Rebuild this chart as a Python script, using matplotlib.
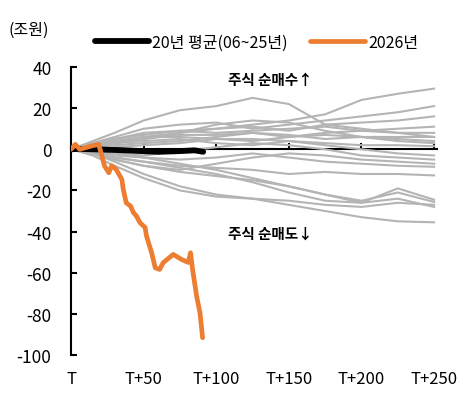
import matplotlib
matplotlib.use("Agg")
import matplotlib.pyplot as plt

plt.rcParams['font.family'] = ['Noto Sans CJK KR', 'DejaVu Sans']
plt.rcParams['axes.unicode_minus'] = False

# ---- data ----
gray_days = [0, 15, 30, 50, 75, 100, 125, 150, 175, 200, 225, 250]
gray_series = [
    [0, 4, 8, 14, 19, 21, 25, 22, 12, 10, 8, 6],
    [0, 2, 5, 8, 9, 10, 12, 14, 17, 24, 27, 29.5],
    [0, 3, 6, 10, 12, 13, 10, 12, 14, 16, 18, 21],
    [0, 2, 4, 6, 8, 10, 11, 9, 12, 13, 14, 16],
    [0, 3, 5, 7, 9, 8, 9, 10, 11, 9, 10, 11],
    [0, 1, 3, 5, 7, 7, 8, 6, 8, 9, 8, 8],
    [0, 2, 4, 6, 6, 5, 4, 6, 7, 6, 6, 6],
    [0, 1, 2, 3, 4, 6, 8, 7, 5, 6, 5, 4],
    [0, 2, 3, 4, 5, 3, 2, 4, 3, 2, 2, 1.5],
    [0, -1, 1, 2, 3, 5, 5, 4, 2, 0, -2, -3],
    [0, -1, -2, -3, -1, 1, 3, 2, 0, -3, -4, -5],
    [0, -1, -3, -4, -5, -4, -2, -4, -6, -7, -8, -8.5],
    [0, -2, -4, -6, -8, -9, -10, -12, -11, -12, -12, -12.7],
    [0, -2, -5, -8, -11, -13, -15, -18, -22, -25, -21, -25.6],
    [0, -3, -8, -14, -20, -23, -24, -25, -27, -28, -26, -27],
    [0, -2, -4, -6, -9, -12, -16, -21, -25, -26, -24, -28],
    [0, -2, -6, -12, -18, -22, -24, -27, -30, -33, -35, -35.5],
    [0, -1, -2, -4, -7, -10, -14, -18, -22, -26, -19, -24.5],
    [0, 1, 3, 5, 8, 12, 14, 13, 9, 6, 4, 3],
    [0, -2, -5, -8, -10, -7, -4, -2, -3, -5, -6, -7],
]

avg_days = [0, 5, 10, 20, 30, 40, 50, 60, 70, 80, 85, 91]
avg_values = [0, 0.2, 0.1, -0.1, -0.3, -0.6, -0.9, -1.2, -1.0, -0.7, -0.5, -1.2]

y2026_days = [0, 3, 6, 10, 14, 19, 21, 23, 26, 28, 31, 35, 36, 38, 41, 43, 45,
              47.5, 51, 52, 55.5, 58, 61, 63.5, 70.4, 76, 80.7, 82.3, 83.7,
              86.5, 88.8, 90.6]
y2026_values = [0, 2.4, 0, 0.8, 1.6, 2.4, -2.4, -8, -11.4, -8, -9.7, -14.6,
                -19.5, -26, -27.6, -30.8, -32.4, -35.7, -38, -42.2, -50.3,
                -57.6, -58.4, -55.1, -51.1, -53.5, -55, -50.3, -58.4, -71.4,
                -79.5, -91.6]

xtick_pos = [0, 50, 100, 150, 200, 250]
xtick_labels = ['T', 'T+50', 'T+100', 'T+150', 'T+200', 'T+250']
ytick_pos = [-100, -80, -60, -40, -20, 0, 20, 40]

# ---- figure ----
fig = plt.figure(figsize=(4.75, 4.02), dpi=100)
ax = fig.add_axes([0.1495, 0.1144, 0.7705, 0.7164])

for s in gray_series:
    ax.plot(gray_days, s, color='#B4B4B4', lw=1.5, zorder=3, solid_joinstyle='round')

ax.plot(avg_days, avg_values, color='black', lw=4.2, zorder=4,
        solid_capstyle='round', label='20년 평균(06~25년)')
ax.plot(y2026_days, y2026_values, color='#ED7D31', lw=3.4, zorder=5,
        solid_capstyle='round', solid_joinstyle='round', label='2026년')

ax.set_xlim(0, 252)
ax.set_ylim(-100, 40)

for side in ['top', 'right']:
    ax.spines[side].set_visible(False)
ax.spines['bottom'].set_position(('data', 0))
ax.spines['bottom'].set_linewidth(1.5)
ax.spines['left'].set_linewidth(1.5)
ax.spines['bottom'].set_zorder(2)

ax.set_yticks(ytick_pos)
ax.tick_params(axis='y', direction='in', length=4, width=1.5, labelsize=12.5, pad=14)
ax.set_xticks(xtick_pos)
ax.tick_params(axis='x', direction='in', length=4, width=1.5, labelbottom=False)

sec = ax.secondary_xaxis('bottom')
sec.spines['bottom'].set_visible(False)
sec.set_xticks(xtick_pos)
sec.set_xticklabels(xtick_labels)
sec.tick_params(axis='x', length=0, labelsize=12, pad=11)

ax.text(137, 34, '주식 순매수↑', ha='center', va='center', fontsize=10.5,
        fontweight='bold')
ax.text(137, -40.5, '주식 순매도↓', ha='center', va='center', fontsize=10.5,
        fontweight='bold')

fig.text(0.017, 0.925, '(조원)', ha='left', va='center', fontsize=11.5)

fig.legend(loc='center', bbox_to_anchor=(0.54, 0.893), ncol=2, frameon=False,
           fontsize=11.5, handlelength=3.4, handletextpad=0.2, columnspacing=1.4)

fig.savefig('out.png', dpi=100)
